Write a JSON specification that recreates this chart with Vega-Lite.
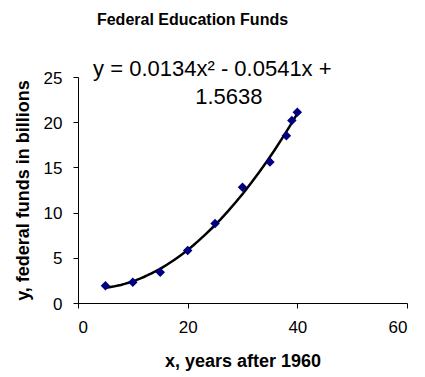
{
  "$schema": "https://vega.github.io/schema/vega-lite/v6.json",
  "autosize": "none",
  "width": 329,
  "height": 226,
  "padding": {"left": 78, "top": 77, "right": 18, "bottom": 74},
  "background": "white",
  "config": {
    "view": {"stroke": null},
    "font": "Liberation Sans",
    "axis": {
      "grid": false,
      "domainColor": "black",
      "domainWidth": 1,
      "tickColor": "black",
      "tickSize": 5,
      "labelFont": "Liberation Sans",
      "labelFontSize": 17,
      "labelColor": "black",
      "titleFont": "Liberation Sans",
      "titleFontSize": 18,
      "titleFontWeight": "bold",
      "titleColor": "black"
    }
  },
  "title": {
    "text": "Federal Education Funds",
    "font": "Liberation Sans",
    "fontSize": 16,
    "fontWeight": "bold",
    "color": "black",
    "anchor": "middle",
    "frame": "group",
    "baseline": "alphabetic",
    "offset": 17,
    "dx": -50
  },
  "datasets": {
    "funds": [
      {"x": 5, "y": 1.9},
      {"x": 10, "y": 2.3},
      {"x": 15, "y": 3.4},
      {"x": 20, "y": 5.8},
      {"x": 25, "y": 8.8},
      {"x": 30, "y": 12.8},
      {"x": 35, "y": 15.6},
      {"x": 38, "y": 18.5},
      {"x": 39, "y": 20.2},
      {"x": 40, "y": 21.1}
    ],
    "labels": [
      {"x": 24.5, "y": 25.85, "text": "y = 0.0134x² - 0.0541x +"},
      {"x": 27.5, "y": 22.8, "text": "1.5638"}
    ]
  },
  "layer": [
    {
      "data": {"name": "funds"},
      "transform": [{"regression": "y", "on": "x", "method": "poly", "order": 2}],
      "mark": {"type": "line", "color": "black", "strokeWidth": 2.5},
      "encoding": {
        "x": {"field": "x", "type": "quantitative"},
        "y": {"field": "y", "type": "quantitative"}
      }
    },
    {
      "data": {"name": "funds"},
      "mark": {"type": "point", "shape": "diamond", "filled": true, "color": "#000080", "size": 90, "opacity": 1},
      "encoding": {
        "x": {
          "field": "x", "type": "quantitative",
          "scale": {"domain": [0, 60], "nice": false},
          "axis": {"values": [0, 20, 40, 60], "title": "x, years after 1960", "labelPadding": 11, "titlePadding": 17}
        },
        "y": {
          "field": "y", "type": "quantitative",
          "scale": {"domain": [0, 25], "nice": false},
          "axis": {"values": [0, 5, 10, 15, 20, 25], "title": "y, federal funds in billions", "labelPadding": 11, "labelOffset": 1, "titlePadding": 11}
        }
      }
    },
    {
      "data": {"name": "labels"},
      "mark": {"type": "text", "font": "Liberation Sans", "fontSize": 22, "color": "black", "align": "center", "baseline": "middle"},
      "encoding": {
        "x": {"field": "x", "type": "quantitative"},
        "y": {"field": "y", "type": "quantitative"},
        "text": {"field": "text"}
      }
    }
  ]
}
